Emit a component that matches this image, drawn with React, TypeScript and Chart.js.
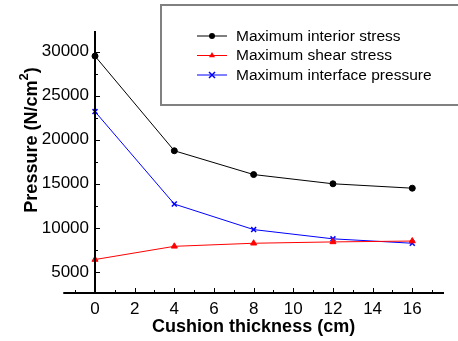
import React, { useEffect, useRef } from "react";
import { Chart, registerables } from "chart.js";

Chart.register(...registerables);

const thickness = [0, 4, 8, 12, 16];
const interiorStress = [29500, 18750, 16050, 15000, 14500];
const shearStress = [6400, 7900, 8250, 8400, 8500];
const interfacePressure = [23200, 12700, 9800, 8750, 8250];
const xTickValues = [0, 2, 4, 6, 8, 10, 12, 14, 16];
const yTickValues = [5000, 10000, 15000, 20000, 25000, 30000];
const seriesNames = [
  "Maximum interior stress",
  "Maximum shear stress",
  "Maximum interface pressure",
];
const xTitle = "Cushion thickness (cm)";
const seriesColors = ["#000000", "#ff0000", "#0000ff"];
const seriesMarkers = ["circle", "triangle", "crossRot"];

const FONT = "'Liberation Sans', Arial, sans-serif";

function drawMarker(ctx: CanvasRenderingContext2D, style: string, x: number, y: number, color: string) {
  ctx.save();
  ctx.fillStyle = color;
  ctx.strokeStyle = color;
  ctx.lineWidth = 1.5;
  ctx.beginPath();
  if (style === "circle") {
    ctx.arc(x, y, 3, 0, Math.PI * 2);
    ctx.fill();
  } else if (style === "triangle") {
    const r = 3.5;
    ctx.moveTo(x, y - r);
    ctx.lineTo(x + r * 0.866, y + r * 0.5);
    ctx.lineTo(x - r * 0.866, y + r * 0.5);
    ctx.closePath();
    ctx.fill();
  } else {
    const r = 3;
    ctx.moveTo(x - r, y - r);
    ctx.lineTo(x + r, y + r);
    ctx.moveTo(x + r, y - r);
    ctx.lineTo(x - r, y + r);
    ctx.stroke();
  }
  ctx.restore();
}

const decorPlugin = {
  id: "decor",
  afterDraw(chart: any) {
    const ctx: CanvasRenderingContext2D = chart.ctx;
    const xs = chart.scales.x;
    const ys = chart.scales.y;
    const area = chart.chartArea;
    const x0 = xs.getPixelForValue(0);
    const xLeft = xs.getPixelForValue(-1.6);
    ctx.save();
    ctx.strokeStyle = "#000";
    ctx.lineWidth = 2;
    // axes
    ctx.beginPath();
    ctx.moveTo(xLeft, area.bottom);
    ctx.lineTo(area.right, area.bottom);
    ctx.moveTo(x0, area.top);
    ctx.lineTo(x0, area.bottom + 1);
    ctx.stroke();
    // x ticks
    ctx.lineWidth = 1;
    ctx.beginPath();
    for (let v = -1; v <= 17; v++) {
      if (v === 0) continue;
      const px = Math.round(xs.getPixelForValue(v)) + 0.5;
      const len = v % 2 === 0 ? 5 : 3;
      ctx.moveTo(px, area.bottom);
      ctx.lineTo(px, area.bottom - len);
    }
    // y ticks
    for (let v = 2500; v <= 32500; v += 2500) {
      const py = Math.round(ys.getPixelForValue(v)) + 0.5;
      if (py < area.top || py > area.bottom - 2) continue;
      const len = v % 5000 === 0 ? 5 : 3;
      ctx.moveTo(x0, py);
      ctx.lineTo(x0 + len, py);
    }
    ctx.stroke();

    // x title
    ctx.fillStyle = "#000";
    ctx.font = `bold 18px ${FONT}`;
    ctx.textAlign = "center";
    ctx.textBaseline = "middle";
    ctx.fillText(xTitle, (xLeft + area.right) / 2, 327);

    // y title with superscript
    ctx.save();
    ctx.translate(36.5, 140);
    ctx.rotate(-Math.PI / 2);
    ctx.fillStyle = "#000";
    ctx.textBaseline = "alphabetic";
    ctx.textAlign = "left";
    const main = "Pressure (N/cm";
    const sup = "2";
    const close = ")";
    ctx.font = `bold 18px ${FONT}`;
    const wMain = ctx.measureText(main).width;
    const wClose = ctx.measureText(close).width;
    ctx.font = `bold 13px ${FONT}`;
    const wSup = ctx.measureText(sup).width;
    const total = wMain + wSup + wClose;
    let cx = -total / 2;
    ctx.font = `bold 18px ${FONT}`;
    ctx.fillText(main, cx, 0);
    cx += wMain;
    ctx.font = `bold 13px ${FONT}`;
    ctx.fillText(sup, cx, -9);
    cx += wSup;
    ctx.font = `bold 18px ${FONT}`;
    ctx.fillText(close, cx, 0);
    ctx.restore();

    // legend
    ctx.strokeStyle = "#808080";
    ctx.lineWidth = 2;
    ctx.beginPath();
    ctx.moveTo(chart.width + 5, 5);
    ctx.lineTo(161, 5);
    ctx.lineTo(161, 105);
    ctx.lineTo(chart.width + 5, 105);
    ctx.stroke();
    const rows = [35.5, 55, 74.5];
    ctx.font = `15.5px ${FONT}`;
    ctx.textBaseline = "middle";
    ctx.textAlign = "left";
    seriesNames.forEach((name, i) => {
      const y = rows[i];
      ctx.strokeStyle = seriesColors[i];
      ctx.lineWidth = 1;
      ctx.beginPath();
      ctx.moveTo(197, y + 0.5);
      ctx.lineTo(227, y + 0.5);
      ctx.stroke();
      drawMarker(ctx, seriesMarkers[i], 212, y + 0.5, seriesColors[i]);
      ctx.fillStyle = "#000";
      ctx.fillText(name, 236, y + 1);
    });
    ctx.restore();
  },
};

export default function App() {
  const ref = useRef<HTMLCanvasElement | null>(null);
  useEffect(() => {
    if (!ref.current) return;
    Chart.defaults.color = "#000";
    const series = [interiorStress, shearStress, interfacePressure];
    const chart = new Chart(ref.current, {
      type: "line",
      data: {
        datasets: series.map((vals, i) => ({
          label: seriesNames[i],
          data: thickness.map((t, j) => ({ x: t, y: vals[j] })),
          borderColor: seriesColors[i],
          backgroundColor: seriesColors[i],
          borderWidth: 1,
          pointStyle: seriesMarkers[i] as any,
          pointRadius: i === 0 ? 3 : 3.5,
          pointBorderWidth: i === 2 ? 1.5 : 1,
          pointBackgroundColor: seriesColors[i],
          pointBorderColor: seriesColors[i],
          tension: 0,
          fill: false,
          clip: false as any,
        })),
      },
      options: {
        animation: false,
        responsive: false,
        layout: { padding: { left: 0, top: 31, right: 14, bottom: 0 } },
        plugins: { legend: { display: false }, tooltip: { enabled: false } },
        scales: {
          x: {
            type: "linear",
            min: 0,
            max: 17.6,
            afterBuildTicks: (s: any) => {
              s.ticks = xTickValues.map((v) => ({ value: v }));
            },
            afterFit: (s: any) => {
              s.height = 48;
            },
            grid: { display: false, drawTicks: false },
            border: { display: false },
            ticks: {
              padding: 6,
              maxRotation: 0,
              autoSkip: false,
              font: { family: FONT, size: 17 },
              color: "#000",
              callback: (v: any) => String(v),
            },
          },
          y: {
            type: "linear",
            min: 2600,
            max: 32350,
            afterBuildTicks: (s: any) => {
              s.ticks = yTickValues.map((v) => ({ value: v }));
            },
            afterFit: (s: any) => {
              s.width = 95;
            },
            grid: { display: false, drawTicks: false },
            border: { display: false },
            ticks: {
              padding: 6,
              autoSkip: false,
              font: { family: FONT, size: 17 },
              color: "#000",
              callback: (v: any) => String(v),
            },
          },
        },
      },
      plugins: [decorPlugin],
    });
    return () => chart.destroy();
  }, []);
  return (
    <div style={{ position: "fixed", left: 0, top: 0, width: 458, height: 341, background: "#fff" }}>
      <canvas ref={ref} width={458} height={341} style={{ display: "block" }} />
    </div>
  );
}
